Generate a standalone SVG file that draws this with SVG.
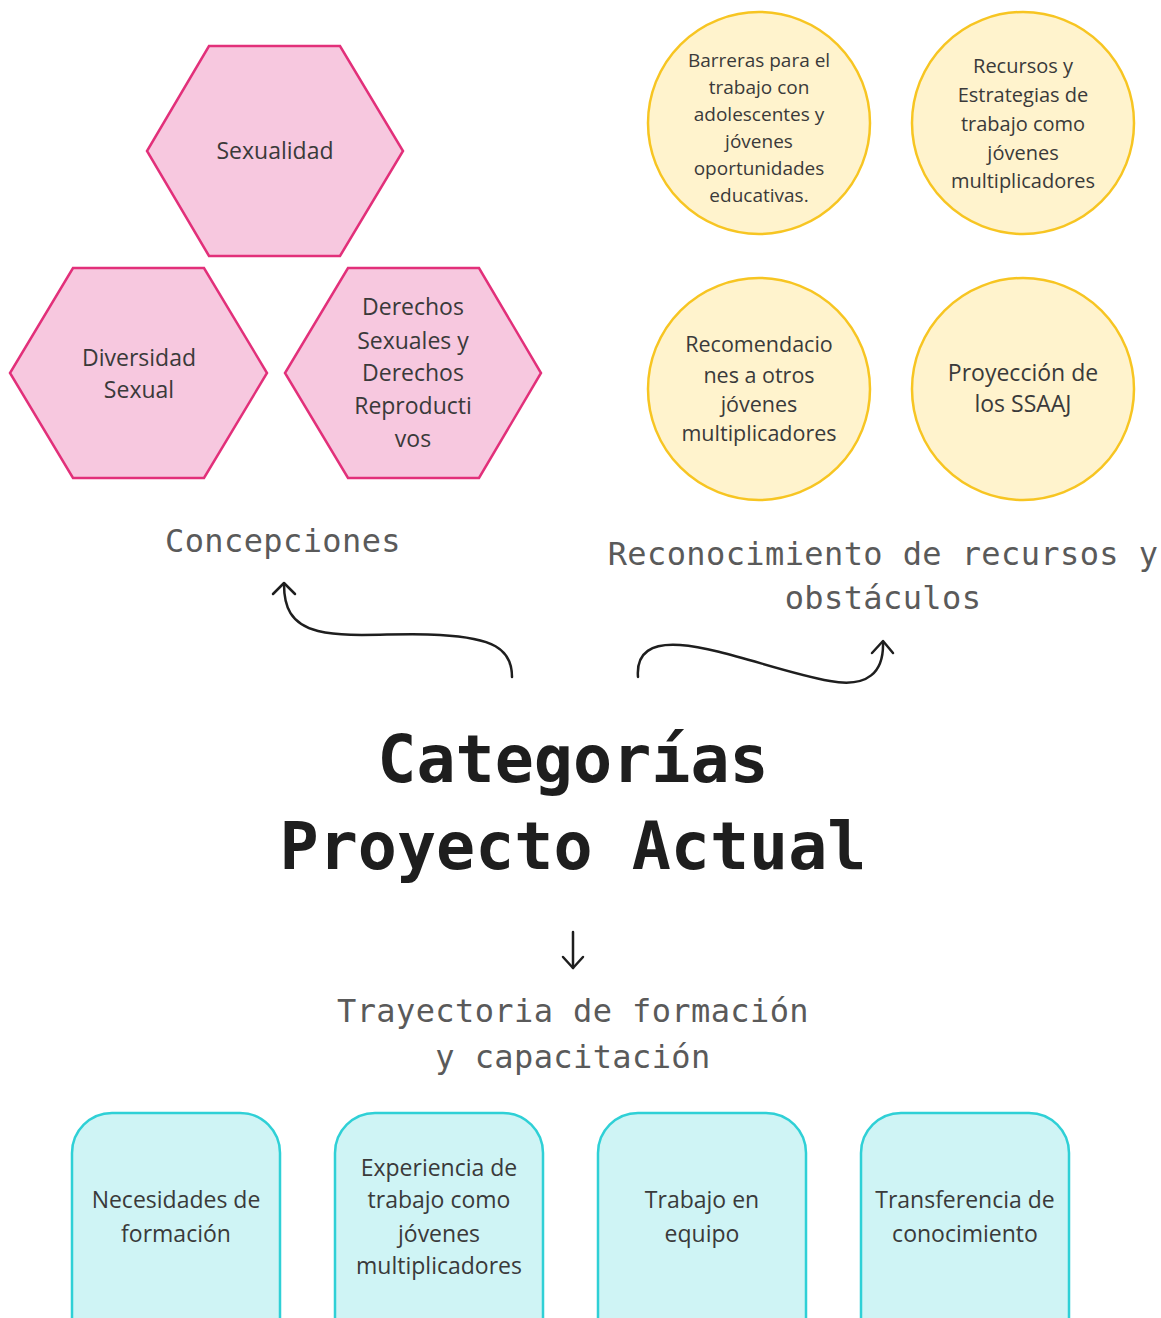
<svg xmlns="http://www.w3.org/2000/svg" width="1161" height="1318" viewBox="0 0 1161 1318">
<style>
.hex{fill:#f7c8df;stroke:#e2307a;stroke-width:2.5}
.cir{fill:#fff3cd;stroke:#f7c522;stroke-width:2.5}
.box{fill:#cff4f5;stroke:#2fd0d6;stroke-width:2.5}
.t{font-family:"Open Sans","Liberation Sans",sans-serif;fill:#3a3a3a;text-anchor:middle}
.m{font-family:"DejaVu Sans Mono","Liberation Mono",monospace;fill:#5a5a5a;text-anchor:middle;font-size:32px;letter-spacing:0.4px}
.title{font-family:"DejaVu Sans Mono","Liberation Mono",monospace;fill:#1e1e1e;text-anchor:middle;font-size:65px;font-weight:bold}
.c{fill:none;stroke:#1e1e1e;stroke-width:2.5;stroke-linecap:round;stroke-linejoin:round}
</style>
<rect width="1161" height="1318" fill="#ffffff"/>
<g id="hex-sexualidad">
<polygon class="hex" points="209,46 340,46 403,151 340,256 209,256 147,151"/>
<text class="t" font-size="23" x="275" y="159">Sexualidad</text>
</g>
<g id="hex-diversidad">
<polygon class="hex" points="73,268 204,268 267,373 204,478 73,478 10,373"/>
<text class="t" font-size="23" x="139" y="366">Diversidad</text>
<text class="t" font-size="23" x="139" y="398">Sexual</text>
</g>
<g id="hex-derechos">
<polygon class="hex" points="348,268 479,268 541,373 479,478 348,478 285,373"/>
<text class="t" font-size="23" x="413" y="315">Derechos</text>
<text class="t" font-size="23" x="413" y="349">Sexuales y</text>
<text class="t" font-size="23" x="413" y="381">Derechos</text>
<text class="t" font-size="23" x="413" y="414">Reproducti</text>
<text class="t" font-size="23" x="413" y="447">vos</text>
</g>
<g id="cir-barreras">
<circle class="cir" cx="759" cy="123" r="111"/>
<text class="t" font-size="19" x="759" y="67">Barreras para el</text>
<text class="t" font-size="19" x="759" y="94">trabajo con</text>
<text class="t" font-size="19" x="759" y="121">adolescentes y</text>
<text class="t" font-size="19" x="759" y="148">jóvenes</text>
<text class="t" font-size="19" x="759" y="175">oportunidades</text>
<text class="t" font-size="19" x="759" y="202">educativas.</text>
</g>
<g id="cir-recursos">
<circle class="cir" cx="1023" cy="123" r="111"/>
<text class="t" font-size="20" x="1023" y="73">Recursos y</text>
<text class="t" font-size="20" x="1023" y="102">Estrategias de</text>
<text class="t" font-size="20" x="1023" y="131">trabajo como</text>
<text class="t" font-size="20" x="1023" y="160">jóvenes</text>
<text class="t" font-size="20" x="1023" y="188">multiplicadores</text>
</g>
<g id="cir-recomendaciones">
<circle class="cir" cx="759" cy="389" r="111"/>
<text class="t" font-size="21.5" x="759" y="352">Recomendacio</text>
<text class="t" font-size="21.5" x="759" y="383">nes a otros</text>
<text class="t" font-size="21.5" x="759" y="412">jóvenes</text>
<text class="t" font-size="21.5" x="759" y="441">multiplicadores</text>
</g>
<g id="cir-proyeccion">
<circle class="cir" cx="1023" cy="389" r="111"/>
<text class="t" font-size="23" x="1023" y="381">Proyección de</text>
<text class="t" font-size="23" x="1023" y="412">los SSAAJ</text>
</g>
<g id="label-concepciones">
<text class="m" x="283" y="552">Concepciones</text>
</g>
<g id="label-reconocimiento">
<text class="m" x="883" y="565">Reconocimiento de recursos y</text>
<text class="m" x="883" y="609">obstáculos</text>
</g>
<g id="title">
<text class="title" x="573" y="782">Categorías</text>
<text class="title" x="573" y="869">Proyecto Actual</text>
</g>
<g id="label-trayectoria">
<text class="m" x="573" y="1022">Trayectoria de formación</text>
<text class="m" x="573" y="1068">y capacitación</text>
</g>
<g id="box-necesidades">
<rect class="box" x="72" y="1113" width="208" height="245" rx="40"/>
<text class="t" font-size="23" x="176" y="1208">Necesidades de</text>
<text class="t" font-size="23" x="176" y="1242">formación</text>
</g>
<g id="box-experiencia">
<rect class="box" x="335" y="1113" width="208" height="245" rx="40"/>
<text class="t" font-size="23" x="439" y="1176">Experiencia de</text>
<text class="t" font-size="23" x="439" y="1208">trabajo como</text>
<text class="t" font-size="23" x="439" y="1242">jóvenes</text>
<text class="t" font-size="23" x="439" y="1274">multiplicadores</text>
</g>
<g id="box-trabajo">
<rect class="box" x="598" y="1113" width="208" height="245" rx="40"/>
<text class="t" font-size="23" x="702" y="1208">Trabajo en</text>
<text class="t" font-size="23" x="702" y="1242">equipo</text>
</g>
<g id="box-transferencia">
<rect class="box" x="861" y="1113" width="208" height="245" rx="40"/>
<text class="t" font-size="23" x="965" y="1208">Transferencia de</text>
<text class="t" font-size="23" x="965" y="1242">conocimiento</text>
</g>
<g id="connectors">
<path class="c" d="M512,677 C512,648 492,638 440,635 C395,632 352,639 318,631 C290,624 284,606 284,584"/>
<path class="c" d="M273,594 L284,583 L295,594"/>
<path class="c" d="M638,677 C636,652 652,643 680,645 C722,648 780,672 830,681 C868,688 884,672 883,642"/>
<path class="c" d="M872,653 L883,641 L893,653"/>
<path class="c" d="M573,932 L573,968"/>
<path class="c" d="M563,957 L573,968 L583,957"/>
</g>
</svg>
